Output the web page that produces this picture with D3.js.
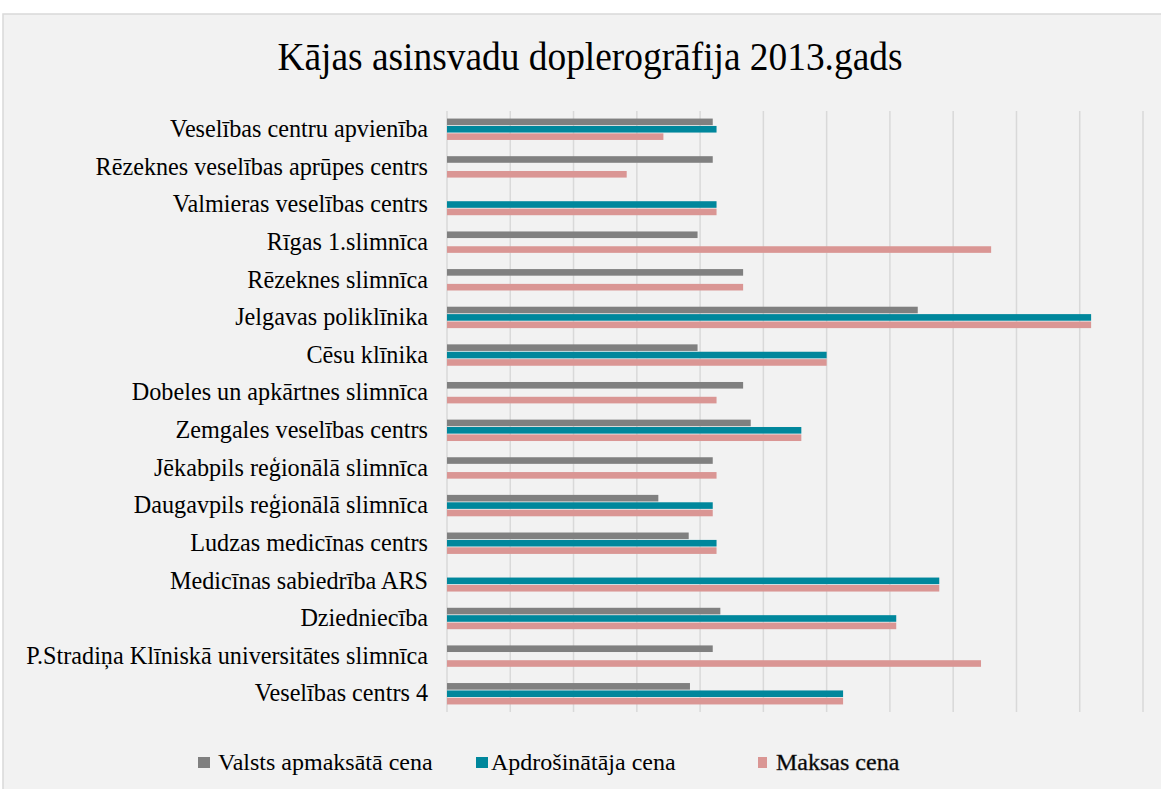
<!DOCTYPE html>
<html>
<head>
<meta charset="utf-8">
<script src="https://cdn.jsdelivr.net/npm/d3@7"></script>
<style>
  body { margin: 0; background: #fff; }
  svg text { font-family: "Liberation Serif", "Times New Roman", serif; fill: #000; }
</style>
</head>
<body>
<div id="chart"></div>
<script>
// categories, top to bottom
var clinics = [
  "Veselības centru apvienība",
  "Rēzeknes veselības aprūpes centrs",
  "Valmieras veselības centrs",
  "Rīgas 1.slimnīca",
  "Rēzeknes slimnīca",
  "Jelgavas poliklīnika",
  "Cēsu klīnika",
  "Dobeles un apkārtnes slimnīca",
  "Zemgales veselības centrs",
  "Jēkabpils reģionālā slimnīca",
  "Daugavpils reģionālā slimnīca",
  "Ludzas medicīnas centrs",
  "Medicīnas sabiedrība ARS",
  "Dziedniecība",
  "P.Stradiņa Klīniskā universitātes slimnīca",
  "Veselības centrs 4"
];
var seriesNames = ["Valsts apmaksātā cena", "Apdrošinātāja cena", "Maksas cena"];
// values (null = no bar)
var valsts = [21.0, 21.0, null, 19.8, 23.4, 37.2, 19.8, 23.4, 24.0, 21.0, 16.7, 19.1, null, 21.6, 21.0, 19.2];
var apdros = [21.3, null, 21.3, null, null, 50.9, 30.0, null, 28.0, null, 21.0, 21.3, 38.9, 35.5, null, 31.3];
var maksas = [17.1, 14.2, 21.3, 43.0, 23.4, 50.9, 30.0, 21.3, 28.0, 21.3, 21.0, 21.3, 38.9, 35.5, 42.2, 31.3];
var gridTicks = [0, 5, 10, 15, 20, 25, 30, 35, 40, 45, 50, 55];
var colors = ["#808080", "#00879c", "#da9694"];

var W = 1161, H = 789;
var FONT = '"Liberation Serif", "Times New Roman", serif';
var svg = d3.select("#chart").append("svg").attr("width", W).attr("height", H);

// chart area background
svg.append("rect").attr("x", 3).attr("y", 14).attr("width", W).attr("height", H)
  .attr("fill", "#f2f2f2").attr("stroke", "#d9d9d9").attr("stroke-width", 1.5);

svg.append("text").attr("x", 590).attr("y", 70)
  .attr("text-anchor", "middle").attr("font-size", "40px")
  .attr("textLength", 625).attr("lengthAdjust", "spacingAndGlyphs")
  .text("Kājas asinsvadu doplerogrāfija 2013.gads");

var x = d3.scaleLinear().domain([0, 55]).range([447, 1143]);
var y = d3.scaleBand().domain(clinics).range([111, 712]).paddingInner(0.41).paddingOuter(0.19);
var ys = d3.scaleBand().domain([0, 1, 2]).range([0, y.bandwidth()]);

// gridlines
svg.append("g").selectAll("line").data(gridTicks).enter().append("line")
  .attr("x1", function(d) { return x(d); }).attr("x2", function(d) { return x(d); })
  .attr("y1", 111).attr("y2", 712)
  .attr("stroke", "#d9d9d9").attr("stroke-width", 1.5);

// category labels
var yAxis = svg.append("g").attr("transform", "translate(" + x(0) + ",0)")
  .call(d3.axisLeft(y).tickSize(0).tickPadding(19));
yAxis.attr("font-family", FONT).attr("font-size", 24);
yAxis.select(".domain").remove();
yAxis.selectAll("text").style("font-family", FONT).style("font-size", "24.2px").attr("fill", "#000");

var allSeries = [valsts, apdros, maksas];
allSeries.forEach(function(vals, si) {
  svg.append("g").selectAll("rect")
    .data(vals.map(function(v, i) { return { c: clinics[i], v: v }; }).filter(function(d) { return d.v != null; }))
    .enter().append("rect")
    .attr("x", x(0))
    .attr("y", function(d) { return y(d.c) + ys(si) + 0.4; })
    .attr("width", function(d) { return x(d.v) - x(0); })
    .attr("height", ys.bandwidth() - 0.8)
    .attr("fill", colors[si]);
});

// legend
var legend = [
  { name: seriesNames[0], sx: 198, sw: 12, tx: 218 },
  { name: seriesNames[1], sx: 476, sw: 12, tx: 491 },
  { name: seriesNames[2], sx: 758, sw: 9, tx: 776 }
];
var lg = svg.append("g").selectAll("g").data(legend).enter().append("g");
lg.append("rect").attr("x", function(d) { return d.sx; }).attr("y", 757)
  .attr("width", function(d) { return d.sw; }).attr("height", 11)
  .attr("fill", function(d, i) { return colors[i]; });
lg.append("text").attr("x", function(d) { return d.tx; }).attr("y", 770)
  .style("font-family", FONT).style("font-size", "24px")
  .attr("stroke", function(d, i) { return i == 2 ? "#333" : "none"; })
  .attr("stroke-width", 0.4)
  .text(function(d) { return d.name; });
</script>
</body>
</html>
